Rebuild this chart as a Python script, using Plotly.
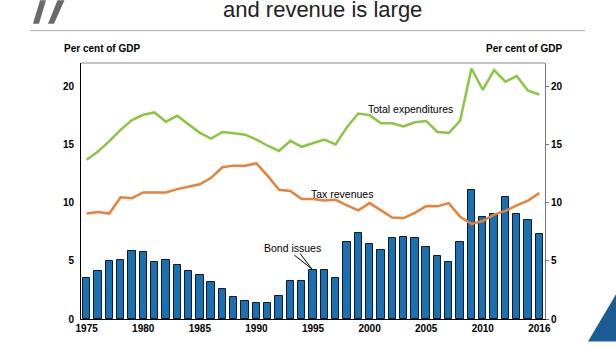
import plotly.graph_objects as go

years = list(range(1975, 2016))
bond_issues = [3.5, 4.16, 4.97, 5.06, 5.87, 5.78, 4.89, 5.06, 4.64, 4.16,
               3.77, 3.21, 2.62, 1.89, 1.58, 1.41, 1.41, 1.97, 3.29, 3.29,
               4.24, 4.24, 3.51, 6.6, 7.41, 6.45, 5.95, 6.99, 7.07, 6.99,
               6.2, 5.39, 4.89, 6.6, 11.08, 8.78, 9.06, 10.46, 9.03, 8.47, 7.33]
tax_revenues = [9.06, 9.2, 9.06, 10.46, 10.38, 10.88, 10.88, 10.88, 11.16, 11.36,
                11.58, 12.14, 13.04, 13.18, 13.18, 13.38, 12.3, 11.1, 11.0, 10.32,
                10.32, 10.18, 10.24, 9.76, 9.34, 9.96, 9.34, 8.72, 8.67, 9.12,
                9.7, 9.68, 9.96, 8.78, 8.17, 8.42, 8.97, 9.29, 9.76, 10.18, 10.82]
total_expenditures = [13.68, 14.39, 15.28, 16.26, 17.1, 17.55, 17.75, 16.96, 17.46, 16.7,
                      16.0, 15.5, 16.07, 15.96, 15.84, 15.42, 14.89, 14.44, 15.31, 14.8,
                      15.14, 15.42, 15.0, 16.49, 17.66, 17.52, 16.82, 16.82, 16.54, 16.91,
                      17.02, 16.07, 15.98, 17.04, 21.53, 19.7, 21.39, 20.4, 20.88, 19.62, 19.29]
x_tickvals = [1975, 1980, 1985, 1990, 1995, 2000, 2005, 2010, 2015]
x_ticktext = ["1975", "1980", "1985", "1990", "1995", "2000", "2005", "2010", "2016"]
y_tickvals = [0, 5, 10, 15, 20]

W, H = 616, 346
L, R, T, B = 81, 71, 63, 22
PW, PH = W - L - R, H - T - B

def px(x):
    return (x - L) / PW

def py(y):
    return (H - B - y) / PH

fig = go.Figure()
fig.add_trace(go.Bar(x=years, y=bond_issues, width=0.65,
                     marker=dict(color="#1b70b2", line=dict(color="#0a1a2a", width=1)),
                     showlegend=False))
fig.add_trace(go.Scatter(x=years, y=tax_revenues, mode="lines",
                         line=dict(color="#e8823a", width=2.5), showlegend=False))
fig.add_trace(go.Scatter(x=years, y=total_expenditures, mode="lines",
                         line=dict(color="#8cc63f", width=2.5), showlegend=False))
fig.add_trace(go.Scatter(x=[years[0]], y=[0], yaxis="y2", mode="markers",
                         marker=dict(opacity=0), showlegend=False, hoverinfo="skip"))

tickfont = dict(family="Liberation Sans", size=10, color="black", weight="bold")
fig.update_layout(
    width=W, height=H, margin=dict(l=L, r=R, t=T, b=B),
    paper_bgcolor="white", plot_bgcolor="white", bargap=0,
    font=dict(family="Liberation Sans", color="black"),
    xaxis=dict(range=[1974.5, 2015.5], tickvals=x_tickvals, ticktext=x_ticktext,
               showgrid=False, zeroline=False, showline=True, linecolor="black",
               linewidth=1, ticks="", tickfont=tickfont),
    yaxis=dict(range=[0, 22], tickvals=y_tickvals, showgrid=False, zeroline=False,
               showline=True, linecolor="black", linewidth=1, ticks="outside",
               ticklen=4, tickcolor="white", tickfont=tickfont),
    yaxis2=dict(range=[0, 22], tickvals=y_tickvals, overlaying="y", side="right",
                showgrid=False, zeroline=False, showline=True, linecolor="#777",
                linewidth=1, ticks="outside", ticklen=3, tickcolor="#777",
                tickfont=tickfont),
)

shapes = [
    dict(type="line", xref="paper", yref="paper", x0=0, x1=1, y0=1, y1=1,
         line=dict(color="#888", width=1)),
    dict(type="line", xref="paper", yref="paper", x0=px(30), x1=px(585), y0=py(30), y1=py(30),
         line=dict(color="#aaa", width=1)),
    dict(type="path", xref="paper", yref="paper", fillcolor="#6a6a6a", line=dict(width=0),
         path=f"M {px(33)},{py(23)} L {px(39)},{py(23)} L {px(46)},{py(-1)} L {px(40)},{py(-1)} Z"),
    dict(type="path", xref="paper", yref="paper", fillcolor="#6a6a6a", line=dict(width=0),
         path=f"M {px(48)},{py(23)} L {px(54)},{py(23)} L {px(64.5)},{py(-1)} L {px(57.5)},{py(-1)} Z"),
    dict(type="path", xref="paper", yref="paper", fillcolor="#1b5c94", line=dict(width=0),
         path=f"M {px(588)},{py(347)} L {px(617)},{py(297)} L {px(617)},{py(347)} Z"),
]
fig.update_layout(shapes=shapes)

ann = [
    dict(text="and revenue is large", xref="paper", yref="paper", x=px(322), y=py(8),
         xanchor="center", yanchor="middle", showarrow=False,
         font=dict(family="Liberation Sans", size=22, color="#222")),
    dict(text="Per cent of GDP", xref="paper", yref="paper", x=px(62), y=py(48),
         xanchor="left", yanchor="middle", showarrow=False,
         font=dict(family="Liberation Sans", size=10, weight="bold", color="black")),
    dict(text="Per cent of GDP", xref="paper", yref="paper", x=px(564), y=py(48),
         xanchor="right", yanchor="middle", showarrow=False,
         font=dict(family="Liberation Sans", size=10, weight="bold", color="black")),
    dict(text="Total expenditures", x=2003.6, y=18.05, showarrow=False,
         font=dict(family="Liberation Sans", size=10.5, color="black")),
    dict(text="Tax revenues", x=1997.55, y=10.75, showarrow=False,
         font=dict(family="Liberation Sans", size=10.5, color="black")),
    dict(text="Bond issues", x=1993.2, y=6.1, showarrow=False,
         font=dict(family="Liberation Sans", size=10.5, color="black")),
    dict(text="", x=1994.9, y=4.3, ax=-19, ay=-15, showarrow=True, arrowhead=0,
         arrowwidth=1, arrowcolor="black"),
    dict(text="", x=1994.9, y=4.3, ax=-13, ay=-17, showarrow=True, arrowhead=0,
         arrowwidth=1, arrowcolor="black"),
]
fig.update_layout(annotations=ann)

fig.write_html("out.html")
